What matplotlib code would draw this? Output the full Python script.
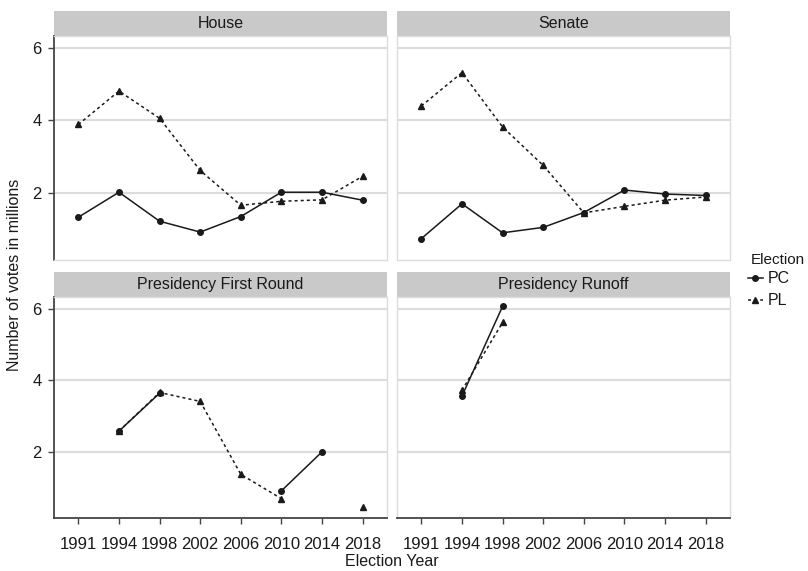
import numpy as np
import matplotlib
matplotlib.use("Agg")
import matplotlib.pyplot as plt
from matplotlib.lines import Line2D

plt.rcParams['font.family'] = ['Liberation Sans', 'DejaVu Sans']

years = ['1991', '1994', '1998', '2002', '2006', '2010', '2014', '2018']
nan = np.nan

house_pc = [1.33, 2.02, 1.22, 0.92, 1.35, 2.02, 2.02, 1.80]
house_pl = [3.89, 4.81, 4.06, 2.62, 1.66, 1.77, 1.81, 2.46]
senate_pc = [0.74, 1.70, 0.90, 1.05, 1.46, 2.08, 1.97, 1.93]
senate_pl = [4.40, 5.32, 3.82, 2.76, 1.45, 1.63, 1.80, 1.89]
first_pc = [nan, 2.58, 3.64, nan, nan, 0.91, 2.00, nan]
first_pl = [nan, 2.58, 3.66, 3.41, 1.37, 0.69, nan, 0.45]
runoff_pc = [nan, 3.56, 6.07, nan, nan, nan, nan, nan]
runoff_pl = [nan, 3.72, 5.62, nan, nan, nan, nan, nan]

panels = [
    ("House", house_pc, house_pl),
    ("Senate", senate_pc, senate_pl),
    ("Presidency First Round", first_pc, first_pl),
    ("Presidency Runoff", runoff_pc, runoff_pl),
]

W, H = 808, 571
fig = plt.figure(figsize=(W / 100, H / 100), dpi=100)

def box(x0, y0, x1, y1):
    # pixel box (top-left origin) -> figure fraction
    return [x0 / W, 1 - y1 / H, (x1 - x0) / W, (y1 - y0) / H]

cols = [(54, 387), (397, 730)]
rows = [((11, 36), (36, 260)), ((272, 297), (297, 518))]

txt = '#1a1a1a'
grid_c = '#dcdcdc'
axis_c = '#444444'
fs = 11.5
x = np.arange(len(years))

for i, (title, pc, pl) in enumerate(panels):
    r, c = divmod(i, 2)
    (sy0, sy1), (py0, py1) = rows[r]
    cx0, cx1 = cols[c]

    sax = fig.add_axes(box(cx0, sy0, cx1, sy1))
    sax.set_facecolor('#c9c9c9')
    sax.set_xticks([]); sax.set_yticks([])
    for s in sax.spines.values():
        s.set_visible(False)
    sax.text(0.5, 0.48, title, ha='center', va='center', fontsize=fs, color=txt,
             transform=sax.transAxes)

    ax = fig.add_axes(box(cx0, py0, cx1, py1))
    ax.set_xlim(-0.6, 7.6)
    ax.set_ylim(0.15, 6.33)
    ax.set_yticks([2, 4, 6])
    ax.grid(axis='y', color=grid_c, lw=1.5)
    ax.set_axisbelow(True)
    for s in ax.spines.values():
        s.set_color(grid_c)
        s.set_linewidth(1.0)

    ax.plot(x, pl, color='#1a1a1a', lw=1.1, ls=(0, (2, 2)), marker='^', ms=5)
    ax.plot(x, pc, color='#1a1a1a', lw=1.1, ls='-', marker='o', ms=4)

    ax.set_xticks(x)
    if r == 1:
        ax.set_xticklabels(years, fontsize=fs + 0.5, color=txt)
        ax.tick_params(axis='x', length=4, color=axis_c, width=1, pad=10)
        ax.spines['bottom'].set_color(axis_c)
        ax.spines['bottom'].set_linewidth(1.3)
    else:
        ax.tick_params(axis='x', length=0, labelbottom=False)
    if c == 0:
        ax.tick_params(axis='y', length=4, color=axis_c, width=1, labelsize=fs + 0.5,
                       labelcolor=txt, pad=5)
        ax.spines['left'].set_color(axis_c)
        ax.spines['left'].set_linewidth(1.3)
    else:
        ax.tick_params(axis='y', length=0, labelleft=False)

fig.text(392 / W, 1 - 562 / H, "Election Year", ha='center', va='center', fontsize=fs, color=txt)
fig.text(15 / W, 1 - 275 / H, "Number of votes in millions", ha='center', va='center',
         rotation=90, fontsize=fs, color=txt)

# legend: title drawn separately to get the ggplot-like gap
fig.text(751 / W, 1 - 260 / H, "Election", ha='left', va='center', fontsize=11, color=txt)
handles = [
    Line2D([], [], color='#1a1a1a', lw=1.1, ls='-', marker='o', ms=4),
    Line2D([], [], color='#1a1a1a', lw=1.1, ls=(0, (2, 2)), marker='^', ms=5),
]
leg = fig.legend(handles, ['PC', 'PL'], loc='upper left',
                 bbox_to_anchor=(745 / W, 1 - 268 / H), frameon=False, fontsize=fs,
                 handlelength=0.9, handletextpad=0.3, labelspacing=0.45,
                 borderaxespad=0, borderpad=0.2)
for t in leg.get_texts():
    t.set_color(txt)

fig.savefig('out.png', dpi=100)
